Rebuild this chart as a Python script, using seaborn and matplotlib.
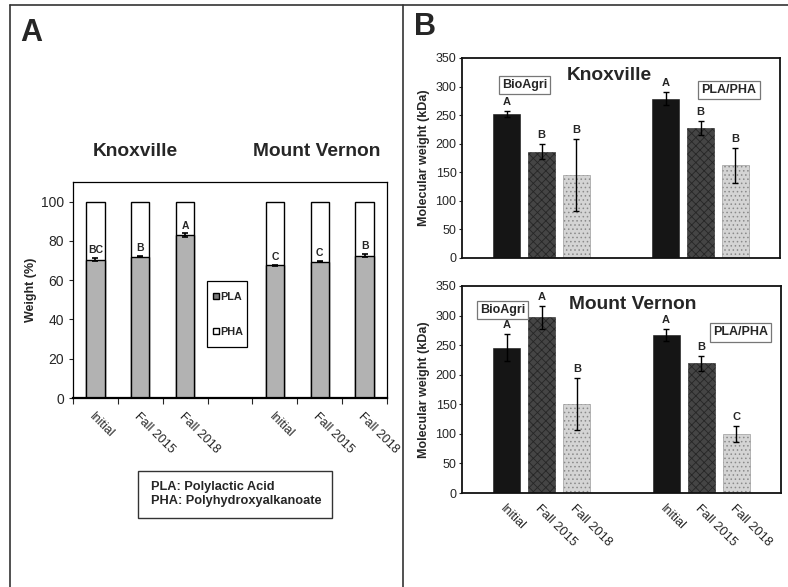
import numpy as np
import pandas as pd
import seaborn as sns
import matplotlib
matplotlib.use("Agg")
import matplotlib.pyplot as plt
from matplotlib.patches import Patch, Rectangle
from matplotlib.lines import Line2D
from matplotlib.container import BarContainer

# ---------------- data ----------------
times = ["Initial", "Fall 2015", "Fall 2018"]
sites = ["Knoxville", "Mount Vernon"]

# Panel A: PLA share (%) of the blend, PHA is the remainder up to 100
pla_knox = [70.5, 72.0, 83.0]
pla_knox_err = [0.6, 0.4, 0.8]
pla_mv = [67.5, 69.5, 72.5]
pla_mv_err = [0.4, 0.4, 0.8]
letters_knox_A = ["BC", "B", "A"]
letters_mv_A = ["C", "C", "B"]

# Panel B: molecular weight (kDa)
materials = ["BioAgri", "PLA/PHA"]
knox_bioagri = [252, 186, 146]
knox_bioagri_err = [6, 13, 63]
knox_plapha = [279, 227, 162]
knox_plapha_err = [12, 12, 31]
knox_letters = [["A", "B", "B"], ["A", "B", "B"]]

mv_bioagri = [246, 297, 150]
mv_bioagri_err = [23, 19, 44]
mv_plapha = [267, 219, 100]
mv_plapha_err = [10, 12, 13]
mv_letters = [["A", "A", "B"], ["A", "B", "C"]]

# ---------------- style ----------------
sns.set_theme(style="white")
plt.rcParams["font.family"] = ["Liberation Sans", "DejaVu Sans"]
plt.rcParams["hatch.linewidth"] = 0.6

fig = plt.figure(figsize=(7.88, 5.87), dpi=100)
W, H = 788.0, 587.0


def rect(l, t, r, b):
    return [l / W, 1 - b / H, (r - l) / W, (b - t) / H]


# ---------------- frame lines ----------------
fc = "#333333"
fig.add_artist(Line2D([10 / W, 1.0], [1 - 5 / H] * 2, color=fc, lw=1.2))
fig.add_artist(Line2D([10 / W] * 2, [0, 1 - 5 / H], color=fc, lw=1.2))
fig.add_artist(Line2D([403 / W] * 2, [0, 1 - 5 / H], color=fc, lw=1.2))
fig.text(20 / W, 1 - 41 / H, "A", fontsize=22, fontweight="bold", ha="left", va="baseline")
fig.text(414 / W, 1 - 35 / H, "B", fontsize=22, fontweight="bold", ha="left", va="baseline")

# ---------------- panel A ----------------
axA = fig.add_axes(rect(73, 182, 387, 398))
order = [f"K|{t}" for t in times] + ["gap"] + [f"M|{t}" for t in times]
dfA = pd.DataFrame({
    "slot": [f"K|{t}" for t in times] + [f"M|{t}" for t in times],
    "pla": pla_knox + pla_mv,
    "err": pla_knox_err + pla_mv_err,
    "letter": letters_knox_A + letters_mv_A,
})
dfA["total"] = 100.0

sns.barplot(data=dfA, x="slot", y="total", order=order, color="white",
            edgecolor="black", linewidth=1.0, width=0.41, saturation=1,
            errorbar=None, ax=axA)
sns.barplot(data=dfA, x="slot", y="pla", order=order, color="#b2b2b2",
            edgecolor="black", linewidth=1.0, width=0.41, saturation=1,
            errorbar=None, ax=axA)
xpos = [order.index(s) for s in dfA["slot"]]
axA.errorbar(xpos, dfA["pla"], yerr=dfA["err"], fmt="none", ecolor="black",
             elinewidth=1.2, capsize=2, capthick=1.2)
for x, v, e, l in zip(xpos, dfA["pla"], dfA["err"], dfA["letter"]):
    axA.text(x, v + e + 1.5, l, ha="center", va="bottom", fontsize=7.5, fontweight="bold")

axA.set_ylim(0, 110)
axA.set_xlim(-0.5, 6.5)
axA.set_yticks(np.arange(0, 101, 20))
axA.tick_params(axis="y", labelsize=10, length=3, direction="out", left=True, width=0.8)
axA.set_xticks(xpos)
axA.set_xticklabels(times + times, rotation=-45, ha="left", rotation_mode="anchor", fontsize=9)
axA.tick_params(axis="x", which="major", length=0, pad=9)
axA.set_xticks(np.arange(-0.5, 7, 1), minor=True)
axA.tick_params(axis="x", which="minor", length=4, direction="out", bottom=True, width=0.8)
axA.set_xlabel("")
axA.set_ylabel("Weight (%)", fontsize=9, fontweight="bold", labelpad=3)
for sp in axA.spines.values():
    sp.set_color("black")
    sp.set_linewidth(0.9)
axA.spines["bottom"].set_linewidth(1.6)

# legend box drawn as a plain rectangle, entries via a frameless figure legend
fig.add_artist(Rectangle((207 / W, 1 - 347 / H), 40 / W, 66 / H, transform=fig.transFigure,
                         facecolor="white", edgecolor="black", lw=0.9, zorder=5))
legA = fig.legend(handles=[Patch(facecolor="#7a7a7a", edgecolor="black", label="PLA"),
                           Patch(facecolor="white", edgecolor="black", label="PHA")],
                  loc="center", bbox_to_anchor=(228 / W, 1 - 314.5 / H),
                  bbox_transform=fig.transFigure, frameon=False,
                  handlelength=0.6, handleheight=0.45, handletextpad=0.1,
                  labelspacing=2.3, borderpad=0, borderaxespad=0,
                  prop={"size": 7.8, "weight": "bold"})
legA.set_zorder(6)

fig.text(135 / W, 1 - 151 / H, "Knoxville", ha="center", va="center",
         fontsize=13.8, fontweight="bold")
fig.text(317 / W, 1 - 151 / H, "Mount Vernon", ha="center", va="center",
         fontsize=13.8, fontweight="bold")

fig.add_artist(Rectangle((138 / W, 1 - 518 / H), 194 / W, 47 / H, transform=fig.transFigure,
                         facecolor="white", edgecolor="#333333", lw=1.0))
fig.text(151 / W, 1 - 494 / H, "PLA: Polylactic Acid\nPHA: Polyhydroxyalkanoate",
         ha="left", va="center", fontsize=9.2, fontweight="bold", linespacing=1.25)

# ---------------- panel B ----------------
colors = ["#151515", "#454545", "#d4d4d4"]
hatches = [None, "xxxx", "...."]
hatch_cols = ["#151515", "#262626", "#8a8a8a"]


def panelB(ax, bio, bio_err, pp, pp_err, letters, title, title_xy, boxes, show_labels):
    df = pd.DataFrame({
        "material": [materials[0]] * 3 + [materials[1]] * 3,
        "time": times * 2,
        "mw": bio + pp,
        "err": bio_err + pp_err,
    })
    sns.barplot(data=df, x="material", y="mw", hue="time", order=materials,
                hue_order=times, palette=colors, width=0.66, gap=0.23,
                saturation=1, errorbar=None, legend=False, ax=ax)
    bar_conts = [c for c in ax.containers if isinstance(c, BarContainer)]
    centers = []
    for i, cont in enumerate(bar_conts):
        for j, p in enumerate(cont.patches):
            p.set_edgecolor(hatch_cols[i])
            p.set_linewidth(0.4)
            if hatches[i]:
                p.set_hatch(hatches[i])
            row = df[(df["material"] == materials[j]) & (df["time"] == times[i])].iloc[0]
            cx = p.get_x() + p.get_width() / 2
            centers.append((cx, times[i]))
            ax.errorbar([cx], [row["mw"]], yerr=[row["err"]], fmt="none", ecolor="black",
                        elinewidth=1.0, capsize=2, capthick=1.0)
            ax.text(cx, row["mw"] + row["err"] + 7, letters[j][i], ha="center",
                    va="bottom", fontsize=8, fontweight="bold")
    centers.sort()
    ax.set_xlim(-0.5, len(materials) - 0.5)
    ax.set_ylim(0, 350)
    ax.set_yticks(np.arange(0, 351, 50))
    ax.tick_params(axis="y", labelsize=9, length=2, direction="out", left=True, width=0.8, pad=2)
    if show_labels:
        ax.set_xticks([c for c, _ in centers])
        ax.set_xticklabels([t for _, t in centers], rotation=-45, ha="left",
                           rotation_mode="anchor", fontsize=9.3)
        ax.tick_params(axis="x", length=0, pad=7)
    else:
        ax.set_xticks([])
    ax.set_xlabel("")
    ax.set_ylabel("Molecular weight (kDa)", fontsize=9, fontweight="bold", labelpad=4)
    for sp in ax.spines.values():
        sp.set_color("#111111")
        sp.set_linewidth(1.3)
    ax.text(title_xy[0], title_xy[1], title, transform=ax.transAxes, ha="center",
            va="center", fontsize=13.8, fontweight="bold")
    for (bx, by, txt) in boxes:
        ax.text(bx, by, txt, transform=ax.transAxes, ha="center", va="center",
                fontsize=9, fontweight="bold",
                bbox=dict(boxstyle="square,pad=0.25", facecolor="white",
                          edgecolor="#777777", lw=0.9))


axB1 = fig.add_axes(rect(462, 58, 780, 258))
panelB(axB1, knox_bioagri, knox_bioagri_err, knox_plapha, knox_plapha_err,
       knox_letters, "Knoxville", (0.462, 0.915),
       [((524.5 - 462) / 318, (258 - 85) / 200, "BioAgri"),
        ((729 - 462) / 318, (258 - 90) / 200, "PLA/PHA")], False)

axB2 = fig.add_axes(rect(462, 286, 781, 493))
panelB(axB2, mv_bioagri, mv_bioagri_err, mv_plapha, mv_plapha_err,
       mv_letters, "Mount Vernon", ((633 - 462) / 319, (493 - 305) / 207),
       [((502.5 - 462) / 319, (493 - 310) / 207, "BioAgri"),
        ((740.5 - 462) / 319, (493 - 332.5) / 207, "PLA/PHA")], True)

fig.savefig("out.png", dpi=100)
